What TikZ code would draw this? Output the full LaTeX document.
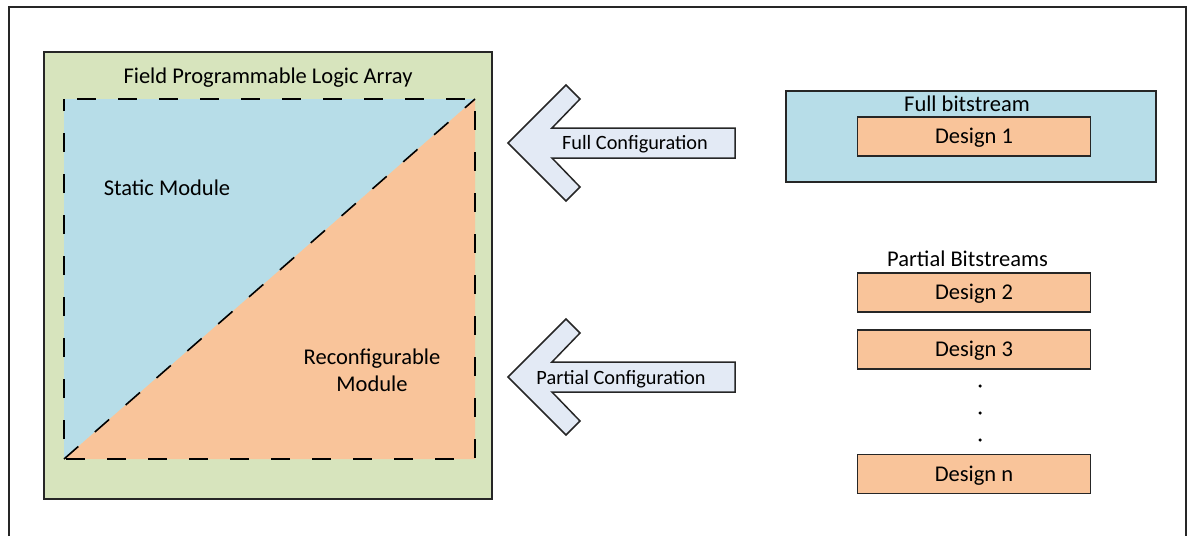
\documentclass[tikz,border=0pt]{standalone}
\usepackage{fontspec}
\setmainfont{Carlito}
\definecolor{fplagreen}{HTML}{D7E4BD}
\definecolor{staticblue}{HTML}{B7DDE8}
\definecolor{reconforange}{HTML}{F9C49A}
\definecolor{arrowfill}{HTML}{E3EAF5}

\begin{document}
\begin{tikzpicture}[
    x=1pt, y=-1pt,
    frame/.style={draw=black!85, line width=1.4pt},
    box/.style={draw=black!85, line width=1.8pt, inner sep=0pt},
    design/.style={box, fill=reconforange, minimum width=233pt,
        minimum height=39pt, text height=14.5pt, text depth=0pt,
        font=\fontsize{22.5}{27}\selectfont},
    label/.style={inner sep=0pt, anchor=base,
        font=\fontsize{22.5}{27}\selectfont},
    cfglabel/.style={inner sep=0pt, anchor=base,
        font=\fontsize{20.3}{24}\selectfont},
    cfgarrow/.style={draw=black!85, line width=1.5pt, fill=arrowfill,
        line join=miter},
    border/.style={draw=black, line width=1.6pt, dash pattern=on 19pt off 22pt},
    dotmark/.style={circle, fill=black, inner sep=0pt, minimum size=3.5pt}
]
    \useasboundingbox (0,0) rectangle (1188,536);
    \draw[frame] (9,536) -- (9,7) -- (1186,7) -- (1186,536);

    \node[box, fill=fplagreen, minimum width=448pt, minimum height=447pt] (fpla) at (268,275.5) {};
    \node[label] (fplatitle) at (268,83) {Field Programmable Logic Array};

    \coordinate (sqtl) at (64,99);
    \coordinate (sqtr) at (475,99);
    \coordinate (sqbr) at (475,459);
    \coordinate (sqbl) at (64,459);
    \fill[staticblue] (sqtl) -- (sqtr) -- (sqbl) -- cycle;
    \fill[reconforange] (sqtr) -- (sqbr) -- (sqbl) -- cycle;
    \draw[border, dash phase=28pt] (sqtl) -- (sqtr) -- (sqbr) -- (sqbl) -- cycle;
    \draw[border] (sqbl) -- (sqtr);

    \node[label] (static) at (167,195) {Static Module};
    \node[label, anchor=center, align=center] (reconf) at (372,370)
        {Reconfigurable\\Module};

    \draw[cfgarrow] (508,143) -- (566,85) -- (580,99) -- (552,128) -- (735,128)
        -- (735,158) -- (552,158) -- (580,187) -- (566,201) -- cycle;
    \node[cfglabel] (fullcfg) at (635,149) {Full Configuration};
    \draw[cfgarrow] (508,377) -- (566,319) -- (580,333) -- (552,362) -- (735,362)
        -- (735,392) -- (552,392) -- (580,421) -- (566,435) -- cycle;
    \node[cfglabel] (partcfg) at (621,384) {Partial Configuration};

    \node[box, fill=staticblue, minimum width=370pt, minimum height=91pt] (fullbits) at (971,136.5) {};
    \node[label] (fulltitle) at (967,111) {Full bitstream};
    \node[design] (design1) at (974,136.5) {Design 1};

    \node[label] (parttitle) at (967.5,266) {Partial Bitstreams};
    \node[design] (design2) at (974,292.5) {Design 2};
    \node[design] (design3) at (974,349.5) {Design 3};
    \node[dotmark] (dot1) at (980,386) {};
    \node[dotmark] (dot2) at (980,413) {};
    \node[dotmark] (dot3) at (980,440) {};
    \node[design] (designn) at (974,474) {Design n};
\end{tikzpicture}
\end{document}
